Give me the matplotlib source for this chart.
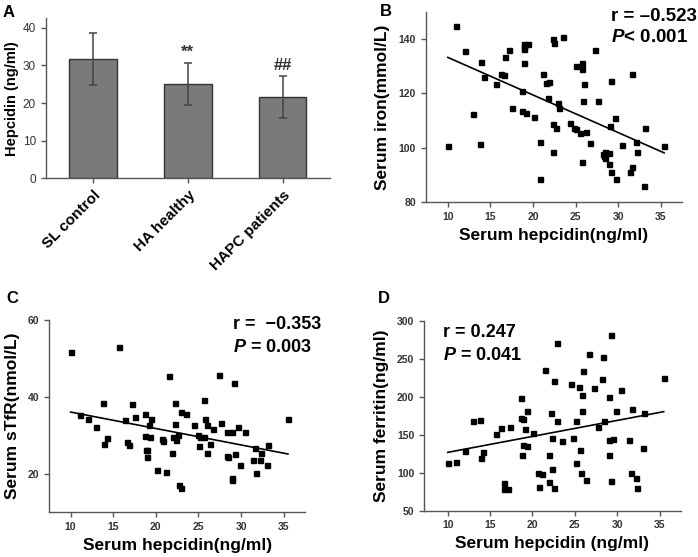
import numpy as np
import matplotlib
matplotlib.use('Agg')
import matplotlib.pyplot as plt

plt.rcParams['font.family'] = ['Liberation Sans', 'DejaVu Sans']
plt.rcParams['mathtext.fontset'] = 'custom'
plt.rcParams['mathtext.it'] = 'Liberation Sans:italic:bold'
plt.rcParams['mathtext.rm'] = 'Liberation Sans:bold'

# panel A: hepcidin by group
groups = ['SL control', 'HA healthy', 'HAPC patients']
hep_mean = [31.8, 25.1, 21.6]
hep_sd = [6.9, 5.5, 5.6]
sig_marks = ['', '**', '##']

# panel B: serum iron vs hepcidin
iron_x = [10.0, 11.0, 12.0, 13.0, 13.9, 13.8, 14.2, 15.7, 16.3, 16.6, 16.7, 17.2, 17.5, 18.7,
          18.7, 18.9, 19.0, 19.4, 19.0, 19.0, 19.2, 20.1, 20.8, 20.8, 21.2, 21.5, 21.9, 21.8,
          22.3, 22.5, 22.3, 22.3, 22.7, 22.9, 23.0, 23.5, 24.4, 24.8, 25.1, 25.1, 25.5, 25.7,
          25.8, 25.8, 26.0, 25.9, 26.2, 26.7, 27.3, 27.6, 28.2, 28.3, 28.5, 28.5, 28.9, 28.9,
          29.0, 29.2, 29.2, 29.6, 29.8, 30.4, 31.6, 31.6, 31.4, 32.1, 32.2, 33.0, 33.1, 35.4]
iron_y = [100.6, 144.8, 135.7, 112.3, 131.5, 101.5, 126.1, 123.4, 127.0, 126.7, 133.3, 136.0,
          114.8, 120.9, 113.5, 138.2, 137.2, 138.2, 136.3, 131.2, 112.9, 111.2, 88.4, 102.1,
          127.0, 123.9, 124.1, 118.2, 139.9, 138.5, 108.7, 98.5, 107.2, 116.3, 114.5, 140.6,
          109.1, 107.4, 107.1, 130.0, 105.6, 131.1, 129.1, 94.8, 123.5, 117.3, 106.0, 101.7,
          135.9, 117.1, 97.8, 97.0, 96.1, 98.3, 98.2, 94.0, 107.9, 91.0, 124.6, 110.9, 88.4,
          101.0, 127.0, 93.0, 91.0, 102.3, 98.3, 85.9, 107.3, 100.7]

# panel C: sTfR vs hepcidin
stfr_x = [10.0, 11.1, 12.0, 13.0, 13.8, 13.9, 14.3, 15.7, 16.4, 16.6, 16.8, 17.2, 17.5, 18.7,
          18.7, 18.9, 19.0, 19.0, 19.2, 19.4, 19.3, 20.1, 20.7, 20.8, 21.2, 21.6, 21.9, 22.0,
          22.3, 22.3, 22.4, 22.6, 22.7, 23.0, 22.9, 23.5, 24.5, 24.9, 25.2, 25.1, 25.6, 25.7,
          25.8, 26.0, 26.0, 26.3, 26.7, 27.4, 27.7, 28.3, 28.4, 28.5, 28.9, 28.9, 28.9, 29.2,
          29.3, 29.6, 29.9, 30.5, 31.4, 31.6, 31.7, 32.3, 32.2, 33.0, 33.2, 35.5]
stfr_y = [51.7, 35.4, 34.3, 32.3, 38.3, 27.7, 29.2, 53.0, 34.1, 28.4, 27.4, 38.2, 34.8, 35.5,
          29.8, 26.3, 26.2, 24.3, 32.7, 34.3, 29.5, 21.1, 29.1, 28.6, 20.4, 45.4, 25.4, 29.7,
          38.4, 33.0, 28.9, 30.0, 17.0, 16.4, 36.2, 35.6, 32.6, 30.1, 29.7, 27.2, 39.3, 29.6,
          34.3, 32.6, 25.5, 27.7, 31.7, 45.7, 33.3, 30.8, 24.7, 24.5, 30.8, 19.0, 18.3, 43.5,
          25.2, 32.3, 22.3, 30.9, 23.5, 26.8, 20.3, 25.4, 23.6, 22.3, 27.4, 34.3]

# panel D: ferritin vs hepcidin
ferr_x = [10.0, 11.0, 12.0, 13.0, 13.8, 13.9, 14.2, 15.7, 16.3, 16.6, 16.7, 17.1, 17.4, 18.7,
          18.7, 18.9, 19.3, 19.1, 18.9, 19.3, 18.8, 20.1, 20.7, 21.1, 20.8, 21.5, 21.9, 22.0,
          22.2, 22.3, 22.3, 22.6, 22.6, 22.9, 22.9, 23.5, 24.5, 24.8, 25.1, 25.5, 25.6, 25.1,
          25.9, 26.0, 25.9, 25.7, 26.3, 26.7, 27.3, 27.7, 28.2, 28.3, 28.4, 29.0, 29.0, 29.0,
          29.3, 29.3, 29.5, 29.9, 30.5, 31.4, 31.7, 31.6, 32.2, 32.3, 33.0, 33.2, 35.5]
ferr_y = [113, 114, 128, 168.4, 169.3, 119.3, 127.2, 150.4, 158.8, 86.4, 78.5, 78.5, 160.5,
          198.2, 172, 171, 181, 157.5, 136.8, 135.5, 122.8, 152.6, 99.1, 98.7, 80.7, 235.5,
          123.7, 88.2, 178, 146, 104.4, 221, 79.4, 271, 168, 141.2, 217, 146, 168, 212.7,
          129.4, 112.3, 202.6, 234, 180.7, 99.1, 90.8, 255.7, 211.4, 160.5, 223.2, 251.8,
          167.5, 199.1, 143, 123.7, 280.7, 89.5, 144.7, 181.6, 209.2, 142.5, 183.8, 99.1,
          93.4, 79.8, 132.9, 178, 225]

fig = plt.figure(figsize=(6.98, 5.57), dpi=100)
W, H = 698, 557


def px_axes(l, t, r, b):
    # axes box from pixel edges
    return fig.add_axes([l / W, 1 - b / H, (r - l) / W, (b - t) / H])


def style(ax):
    for s in ['top', 'right']:
        ax.spines[s].set_visible(False)
    for s in ['left', 'bottom']:
        ax.spines[s].set_color('#555555')
        ax.spines[s].set_linewidth(1.0)
    ax.tick_params(direction='out', length=3.5, width=1.0, color='#555555')


# A
axA = px_axes(45.7, 18.3, 330, 178.3)
xpos = np.arange(len(groups))
axA.bar(xpos, hep_mean, width=0.5, color='#7a7a7a', edgecolor='#333333', linewidth=1.0, zorder=2)
axA.errorbar(xpos, hep_mean, yerr=hep_sd, fmt='none', ecolor='#444444', elinewidth=1.1,
             capsize=3, capthick=1.1, zorder=3)
for i, m in enumerate(sig_marks):
    if m:
        axA.text(xpos[i], hep_mean[i] + hep_sd[i] + 0.8, m, ha='center', va='bottom',
                 fontsize=12, fontweight='bold', color='#333333')
axA.set_xlim(-0.5, 2.5)
axA.set_ylim(0, 42.5)
axA.set_yticks([0, 10, 20, 30, 40])
axA.set_xticks(xpos)
axA.set_xticklabels(groups, rotation=45, ha='right', rotation_mode='anchor',
                    fontsize=11, fontweight='bold')
axA.tick_params(axis='y', labelsize=8.5, labelcolor='#333333')
axA.set_ylabel('Hepcidin (ng/ml)', fontsize=10.5, fontweight='bold', labelpad=3)
style(axA)


def scatter_panel(ax, x, y, xlim, ylim, yticks, ylabel, xlabel):
    ax.plot(x, y, 's', color='black', markersize=3.6, linestyle='none', zorder=3)
    k, b0 = np.polyfit(x, y, 1)
    xl = np.array([min(x), max(x)])
    ax.plot(xl, k * xl + b0, color='black', linewidth=1.2, zorder=2)
    ax.set_xlim(*xlim)
    ax.set_ylim(*ylim)
    ax.set_xticks([10, 15, 20, 25, 30, 35])
    ax.set_yticks(yticks)
    for lab in ax.get_xticklabels() + ax.get_yticklabels():
        lab.set_fontweight('bold')
    ax.tick_params(labelsize=7.5, labelcolor='#333333')
    ax.set_ylabel(ylabel, fontsize=12.5, fontweight='bold', labelpad=6)
    ax.set_xlabel(xlabel, fontsize=12.5, fontweight='bold', labelpad=4)
    style(ax)


axB = px_axes(425.7, 11.7, 682, 202.3)
scatter_panel(axB, iron_x, iron_y, (7.4, 37.5), (80, 150), [80, 100, 120, 140],
              'Serum iron(mmol/L)', 'Serum hepcidin(ng/ml)')

axC = px_axes(49.3, 320, 305, 512.3)
scatter_panel(axC, stfr_x, stfr_y, (7.5, 37.5), (10, 60), [20, 40, 60],
              'Serum sTfR(nmol/L)', 'Serum hepcidin(ng/ml)')

axD = px_axes(424, 320.7, 680.7, 510.7)
scatter_panel(axD, ferr_x, ferr_y, (7.2, 37.5), (50, 300), [50, 100, 150, 200, 250, 300],
              'Serum ferritin(ng/ml)', 'Serum hepcidin (ng/ml)')


def ftext(x, y, s, **kw):
    fig.text(x / W, 1 - y / H, s, va='baseline', ha='left', fontweight='bold', **kw)


# panel letters
ftext(3, 17, 'A', fontsize=12)
ftext(380, 16, 'B', fontsize=12)
ftext(6, 303, 'C', fontsize=12)
ftext(378, 303, 'D', fontsize=12)

# correlation stats
ftext(611, 20.7, 'r = \u20130.523', fontsize=13.5)
ftext(611, 41.7, '$P$< 0.001', fontsize=13.5)
ftext(233, 329, 'r =  \u22120.353', fontsize=13)
ftext(233, 351.7, '$P$ = 0.003', fontsize=13)
ftext(443, 336.7, 'r = 0.247', fontsize=13)
ftext(443, 360, '$P$ = 0.041', fontsize=13)

fig.savefig('out.png', dpi=100)
